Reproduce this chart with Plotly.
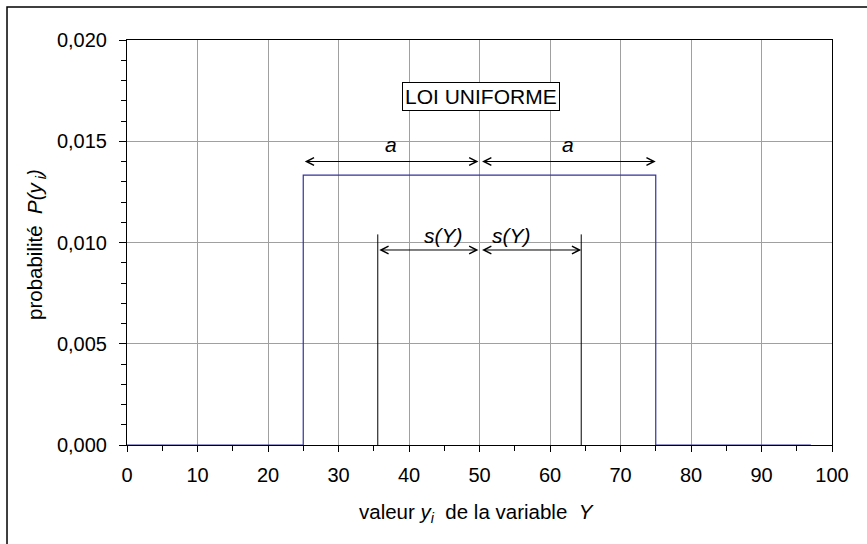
import plotly.graph_objects as go

# ---- data ----
dist_x = [0, 25, 25, 75, 75, 97]
dist_y = [0, 0, 0.01333, 0.01333, 0, 0]
mean_y = 50
half_width_a = 25
sd = 14.43
sd_line_top = 0.0104
a_arrow_y = 0.0140
s_arrow_y = 0.00963
a_label_y = 0.01486
s_label_y = 0.01037
s_label_x = [44.9, 54.5]
title_x, title_y = 50.2, 0.01723

FONT = "Arial, Liberation Sans, sans-serif"

fig = go.Figure()

fig.add_trace(go.Scatter(x=dist_x, y=dist_y, mode="lines",
                         line=dict(color="#333399", width=1.2),
                         hoverinfo="skip", showlegend=False))
for xv in [mean_y - sd, mean_y + sd]:
    fig.add_trace(go.Scatter(x=[xv, xv], y=[0, sd_line_top], mode="lines",
                             line=dict(color="black", width=1),
                             hoverinfo="skip", showlegend=False))

ann = []
# double-headed arrows
for (x0, x1, yv) in [(mean_y - half_width_a, mean_y, a_arrow_y),
                     (mean_y, mean_y + half_width_a, a_arrow_y),
                     (mean_y - sd, mean_y, s_arrow_y),
                     (mean_y, mean_y + sd, s_arrow_y)]:
    ann.append(dict(x=x1 - 0.15 if x1 == mean_y else x1, y=yv,
                    ax=x0 + 0.15 if x0 == mean_y else x0, ay=yv,
                    xref="x", yref="y", axref="x", ayref="y",
                    text="", showarrow=True, arrowhead=5, startarrowhead=5,
                    arrowside="end+start", arrowsize=1.5, startarrowsize=1.5,
                    arrowwidth=1, arrowcolor="black", standoff=0, startstandoff=0))

for xv in [mean_y - half_width_a / 2, mean_y + half_width_a / 2]:
    ann.append(dict(x=xv, y=a_label_y, xref="x", yref="y", text="<i>a</i>",
                    showarrow=False, font=dict(family=FONT, size=21, color="black")))
for xv in s_label_x:
    ann.append(dict(x=xv, y=s_label_y, xref="x", yref="y", text="<i>s(Y)</i>",
                    showarrow=False, font=dict(family=FONT, size=21, color="black")))

ann.append(dict(x=title_x, y=title_y, xref="x", yref="y", text="LOI UNIFORME",
                showarrow=False, bordercolor="black", borderwidth=1, borderpad=2,
                bgcolor="white", font=dict(family=FONT, size=21, color="black")))

# axis titles
ann.append(dict(x=0.496, y=-0.168, xref="paper", yref="paper",
                text="valeur <i>y</i><sub><i>i</i></sub>  de la variable  <i>Y</i>",
                showarrow=False, xanchor="center", yanchor="middle",
                font=dict(family=FONT, size=20.5, color="black")))
ann.append(dict(x=-0.129, y=0.494, xref="paper", yref="paper",
                text="probabilité  <i>P(y</i><sub><i> i</i></sub><i>)</i>",
                textangle=-90, showarrow=False, xanchor="center", yanchor="middle",
                font=dict(family=FONT, size=20.5, color="black")))

fig.update_layout(
    width=867, height=544,
    margin=dict(l=127, r=35, t=40, b=99),
    paper_bgcolor="white", plot_bgcolor="white",
    separators=", ",
    font=dict(family=FONT, size=20, color="black"),
    annotations=ann,
    shapes=[dict(type="rect", xref="paper", yref="paper",
                 x0=-0.1702, x1=1.2, y0=-0.4, y1=1.0815,
                 line=dict(color="black", width=1.5), layer="below")],
    xaxis=dict(range=[0, 100], dtick=10, tick0=0, showgrid=True,
               gridcolor="#a0a0a0", gridwidth=1, zeroline=False,
               showline=True, linecolor="black", linewidth=1, mirror=True,
               ticks="outside", ticklen=6, tickcolor="black",
               minor=dict(dtick=5, ticks="outside", ticklen=5, tickcolor="black", showgrid=False),
               tickfont=dict(family=FONT, size=20), ticklabelstandoff=6),
    yaxis=dict(range=[0, 0.02], dtick=0.005, tick0=0, tickformat=".3f",
               showgrid=True, gridcolor="#a0a0a0", gridwidth=1, zeroline=False,
               showline=True, linecolor="black", linewidth=1, mirror=True,
               ticks="outside", ticklen=7, tickcolor="black",
               minor=dict(dtick=0.001, ticks="outside", ticklen=5, tickcolor="black", showgrid=False),
               tickfont=dict(family=FONT, size=20), ticklabelstandoff=8),
)

fig.write_html("out.html")
